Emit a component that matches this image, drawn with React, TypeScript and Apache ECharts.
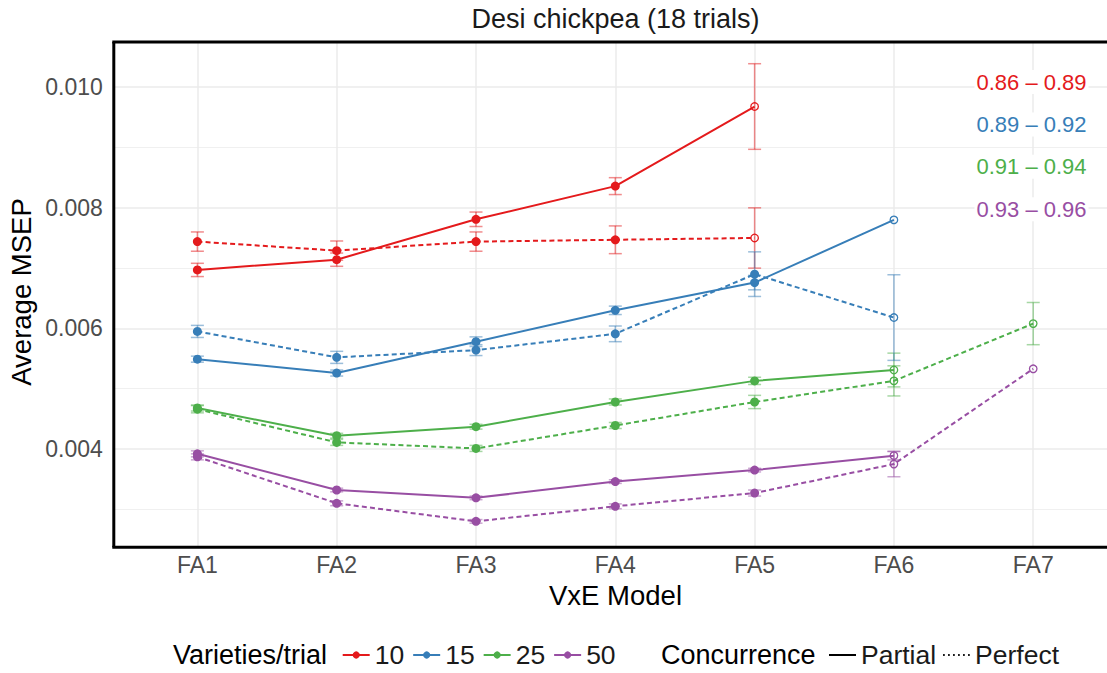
import React, { useEffect, useRef } from 'react';
import * as echarts from 'echarts';

// ---------- data ----------
const categories = ['FA1', 'FA2', 'FA3', 'FA4', 'FA5', 'FA6', 'FA7'];
const groups = ['10', '15', '25', '50'];
const groupColors = ['#E41A1C', '#377EB8', '#4DAF4A', '#984EA3'];
const rangeLabels = ['0.86 – 0.89', '0.89 – 0.92', '0.91 – 0.94', '0.93 – 0.96'];
const concurrence = ['Partial', 'Perfect'];
const yTickLabels = [0.004, 0.006, 0.008, 0.01];
// index of first hollow point, per group
const openFrom = [4, 5, 5, 5];

// Partial concurrence (solid lines): means and half-widths of error bars
const partial10 = [0.00697, 0.00714, 0.00781, 0.00836, 0.00968];
const partial10Err = [0.00011, 0.00011, 0.00012, 0.00014, 0.00071];
const partial15 = [0.00549, 0.00526, 0.00578, 0.0063, 0.00676, 0.0078];
const partial15Err = [0.00005, 0.00005, 0.00008, 0.00007, 0.00012, null];
const partial25 = [0.00468, 0.00422, 0.00437, 0.00478, 0.00513, 0.00531];
const partial25Err = [0.00005, 0.00004, 0.00004, 0.00005, 0.00006, 0.00028];
const partial50 = [0.00392, 0.00332, 0.00319, 0.00346, 0.00365, 0.00389];
const partial50Err = [0.00005, 0.00003, 0.00003, 0.00003, 0.00003, 0.00007];

// Perfect concurrence (dashed lines)
const perfect10 = [0.00744, 0.00729, 0.00744, 0.00747, 0.0075];
const perfect10Err = [0.00016, 0.00016, 0.00016, 0.00023, 0.0005];
const perfect15 = [0.00595, 0.00552, 0.00564, 0.00591, 0.0069, 0.00618];
const perfect15Err = [0.0001, 0.0001, 0.00009, 0.00013, 0.00037, 0.00071];
const perfect25 = [0.00466, 0.00411, 0.00401, 0.00439, 0.00478, 0.00513, 0.00608];
const perfect25Err = [0.00006, 0.00005, 0.00005, 0.00005, 0.00011, 0.00025, 0.00035];
const perfect50 = [0.00387, 0.0031, 0.0028, 0.00305, 0.00327, 0.00375, 0.00533];
const perfect50Err = [0.00005, 0.00004, 0.00003, 0.00004, 0.00005, 0.00021, null];

const partialMeans = [partial10, partial15, partial25, partial50];
const partialErrs = [partial10Err, partial15Err, partial25Err, partial50Err];
const perfectMeans = [perfect10, perfect15, perfect25, perfect50];
const perfectErrs = [perfect10Err, perfect15Err, perfect25Err, perfect50Err];

// ---------- styles ----------
const FONT = 'Liberation Sans';
const DASH = [5, 3.2];
const PANEL = { left: 113.8, top: 42, width: 1003, height: 505.3 };
const VIEW_W = 1107;
const VIEW_H = 673;

function hexToRgba(hex: string, a: number) {
  const n = parseInt(hex.slice(1), 16);
  return `rgba(${(n >> 16) & 255},${(n >> 8) & 255},${n & 255},${a})`;
}

function buildOption() {
  const series: any[] = [];
  const sets = [
    { means: partialMeans, errs: partialErrs, dashed: false },
    { means: perfectMeans, errs: perfectErrs, dashed: true },
  ];
  sets.forEach((set) => {
    set.means.forEach((vals, g) => {
      const color = groupColors[g];
      const errData: any[] = [];
      vals.forEach((v, i) => {
        const e = set.errs[g][i];
        if (e != null) errData.push([i, v - e, v + e]);
      });
      series.push({
        type: 'custom',
        name: 'err',
        z: 2,
        silent: true,
        encode: { x: 0, y: [1, 2] },
        data: errData,
        renderItem: (params: any, api: any) => {
          const x = api.value(0);
          const p1 = api.coord([x, api.value(1)]);
          const p2 = api.coord([x, api.value(2)]);
          const w = 6.5;
          const style = { stroke: hexToRgba(color, 0.5), lineWidth: 1.5 };
          return {
            type: 'group',
            children: [
              { type: 'line', shape: { x1: p1[0], y1: p1[1], x2: p2[0], y2: p2[1] }, style },
              { type: 'line', shape: { x1: p1[0] - w, y1: p1[1], x2: p1[0] + w, y2: p1[1] }, style },
              { type: 'line', shape: { x1: p2[0] - w, y1: p2[1], x2: p2[0] + w, y2: p2[1] }, style },
            ],
          };
        },
      });
      series.push({
        type: 'line',
        name: groups[g],
        z: 3,
        symbol: 'circle',
        symbolSize: 9,
        showSymbol: true,
        color,
        lineStyle: { color, width: 2, type: set.dashed ? DASH : 'solid' },
        itemStyle: { color },
        emphasis: { disabled: true },
        data: vals.map((v, i) =>
          i >= openFrom[g]
            ? {
                value: [i, v],
                symbolSize: 7.5,
                itemStyle: { color: 'rgba(255,255,255,0)', borderColor: color, borderWidth: 1.3 },
              }
            : { value: [i, v] }
        ),
      });
    });
  });
  // dummy series for the concurrence legend
  series.push({
    type: 'line',
    name: 'Partial',
    symbol: 'none',
    color: '#000',
    lineStyle: { color: '#000', width: 1.6, type: 'solid' },
    data: [],
  });
  series.push({
    type: 'line',
    name: 'Perfect',
    symbol: 'none',
    color: '#000',
    lineStyle: { color: '#000', width: 1.6, type: [1.6, 3.4] },
    data: [],
  });

  const legendText = { fontSize: 26.5, color: '#1A1A1A', fontFamily: FONT, lineHeight: 30 };
  const annotBox = { backgroundColor: '#fff', padding: [1, 2, 1, 2] };
  const x0 = PANEL.left;
  const x1 = Math.min(PANEL.left + PANEL.width, VIEW_W);
  const y0 = PANEL.top;
  const y1 = PANEL.top + PANEL.height;
  const borderStyle = { stroke: '#000', lineWidth: 3 };

  return {
    animation: false,
    backgroundColor: '#fff',
    textStyle: { fontFamily: FONT },
    grid: { ...PANEL, show: false, containLabel: false, outerBoundsMode: 'none' },
    xAxis: {
      type: 'value',
      min: -0.6,
      max: 6.6,
      splitNumber: 7,
      axisLine: { show: false },
      axisTick: { show: false },
      axisLabel: {
        show: true,
        showMinLabel: false,
        showMaxLabel: false,
        formatter: (v: number) => (Number.isInteger(v) && categories[v] ? categories[v] : ''),
        fontSize: 23,
        color: '#4D4D4D',
        fontFamily: FONT,
        verticalAlign: 'middle',
        margin: 18,
      },
      splitLine: {
        show: true,
        showMinLine: false,
        showMaxLine: false,
        lineStyle: { color: '#EBEBEB', width: 1.5 },
      },
    },
    yAxis: {
      type: 'value',
      min: 0.00237,
      max: 0.01075,
      splitNumber: 4,
      axisLine: { show: false },
      axisTick: { show: false },
      minorTick: { show: false, splitNumber: 2 },
      axisLabel: {
        showMinLabel: false,
        showMaxLabel: false,
        formatter: (v: number) => {
          const t = yTickLabels.find((x) => Math.abs(x - v) < 1e-9);
          return t != null ? t.toFixed(3) : '';
        },
        fontSize: 23,
        color: '#4D4D4D',
        fontFamily: FONT,
        margin: 11,
      },
      splitLine: {
        show: true,
        showMinLine: false,
        showMaxLine: false,
        lineStyle: { color: '#EBEBEB', width: 1.5 },
      },
      minorSplitLine: { show: true, lineStyle: { color: '#F0F0F0', width: 1 } },
    },
    legend: [
      {
        data: groups,
        left: 341.7,
        top: 640,
        orient: 'horizontal',
        itemWidth: 27,
        itemHeight: 9,
        itemGap: 8,
        padding: 0,
        selectedMode: false,
        textStyle: legendText,
      },
      {
        data: concurrence.map((n) => ({ name: n, itemStyle: { opacity: 0 } })),
        left: 828,
        top: 640,
        orient: 'horizontal',
        itemWidth: 27,
        itemHeight: 9,
        itemGap: 6,
        padding: 0,
        selectedMode: false,
        textStyle: legendText,
      },
    ],
    graphic: [
      { type: 'line', z: 100, silent: true, shape: { x1: x0 - 1.5, y1: y0, x2: x1, y2: y0 }, style: borderStyle },
      { type: 'line', z: 100, silent: true, shape: { x1: x0 - 1.5, y1: y1, x2: x1, y2: y1 }, style: borderStyle },
      { type: 'line', z: 100, silent: true, shape: { x1: x0, y1: y0, x2: x0, y2: y1 }, style: borderStyle },
      {
        type: 'text',
        x: 615.5,
        y: 19,
        style: { text: 'Desi chickpea (18 trials)', fontSize: 27, fontFamily: FONT, fill: '#1A1A1A', align: 'center', verticalAlign: 'middle' },
      },
      {
        type: 'text',
        x: 615.5,
        y: 595,
        style: { text: 'VxE Model', fontSize: 27.5, fontFamily: FONT, fill: '#000', align: 'center', verticalAlign: 'middle' },
      },
      {
        type: 'text',
        x: 21,
        y: 292,
        rotation: Math.PI / 2,
        style: { text: 'Average MSEP', fontSize: 27.5, fontFamily: FONT, fill: '#000', align: 'center', verticalAlign: 'middle' },
      },
      {
        type: 'text',
        x: 173,
        y: 655,
        style: { text: 'Varieties/trial', fontSize: 27, fontFamily: FONT, fill: '#000', align: 'left', verticalAlign: 'middle' },
      },
      {
        type: 'text',
        x: 661,
        y: 655,
        style: { text: 'Concurrence', fontSize: 27, fontFamily: FONT, fill: '#000', align: 'left', verticalAlign: 'middle' },
      },
      ...rangeLabels.map((t, g) => ({
        type: 'text',
        x: 1031.5,
        y: 82 + g * 42.4,
        z: 50,
        style: { text: t, fontSize: 22, fontFamily: FONT, fill: groupColors[g], align: 'center', verticalAlign: 'middle', ...annotBox },
      })),
    ],
    series,
  };
}

export default function App() {
  const ref = useRef<HTMLDivElement>(null);
  useEffect(() => {
    if (!ref.current) return;
    const chart = echarts.init(ref.current, undefined, { renderer: 'svg' });
    chart.setOption(buildOption() as any);
    return () => chart.dispose();
  }, []);
  return (
    <div
      ref={ref}
      style={{
        position: 'absolute',
        left: 0,
        top: 0,
        width: VIEW_W,
        height: VIEW_H,
        overflow: 'hidden',
        background: '#fff',
      }}
    />
  );
}
